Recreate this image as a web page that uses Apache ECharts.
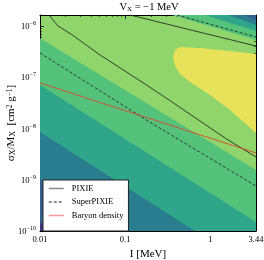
<!DOCTYPE html>
<html><head><meta charset="utf-8">
<script src="https://cdn.jsdelivr.net/npm/echarts@6/dist/echarts.min.js"></script>
<style>html,body{margin:0;padding:0;background:#fff}#c{width:264px;height:260px}</style>
</head><body><div id="c"></div>
<script>
// ---- axis extents and tick labels ----
const xRange = [0.01, 3.44];
const yRange = [1e-10, 1.64e-6];
const xTickLabels = ['0.01', '0.1', '1', '3.44'];

// ---- filled contour boundaries: I [MeV] and sigma_X/M_X [cm^2 g^-1] ----
const lgGreenI = [0.01, 3.44];      const lgGreenS = [5.8e-7, 1.55e-9];
const greenTealI = [0.01, 3.44];    const greenTealS = [7.06e-8, 1.5e-10];
const tealBlueI = [0.01, 0.66];     const tealBlueS = [8.55e-9, 1e-10];
const blueDeepI = [0.01, 0.0918];   const blueDeepS = [1.035e-9, 1e-10];
const deepNavyI = [0.01, 0.0142];   const deepNavyS = [1.43e-10, 1e-10];
// top-right corner levels
const trGreenI = [0.355, 3.44];     const trGreenS = [1.64e-6, 5.33e-7];
const trTealI = [0.866, 3.44];      const trTealS = [1.64e-6, 7.98e-7];
const trBlueI = [1.614, 3.44];      const trBlueS = [1.64e-6, 1.046e-6];
const trDeepI = [2.488, 3.44];      const trDeepS = [1.64e-6, 1.309e-6];
// yellow (highest) region
const yelTopI = [0.365, 0.385, 0.4405, 0.757, 1.703, 3.44];
const yelTopS = [2.48e-7, 3.40e-7, 3.89e-7, 3.72e-7, 3.25e-7, 2.84e-7];
const yelBotI = [0.365, 0.385, 0.4405, 0.5775, 0.992, 1.703, 3.44];
const yelBotS = [2.48e-7, 1.66e-7, 1.156e-7, 8.07e-8, 4.51e-8, 2.30e-8, 8.17e-9];

// ---- constraint curves ----
const pixieLowI = [0.01276, 0.01627, 0.02312, 0.0507, 0.0996, 0.1855, 0.385, 0.757, 1.488, 3.44];
const pixieLowS = [1.64e-6, 1e-6, 6.98e-7, 2.72e-7, 1.324e-7, 6.75e-8, 3.01e-8, 1.40e-8, 6.53e-9, 2.78e-9];
const pixieHighI = [0.114, 3.44];   const pixieHighS = [1.64e-6, 4.07e-7];
const superLowI = [0.01, 0.1855, 3.44]; const superLowS = [2.97e-7, 1.40e-8, 7.55e-10];
const superHighI = [0.4064, 3.44];  const superHighS = [1.64e-6, 6.10e-7];
const baryonI = [0.01, 3.44];       const baryonS = [7.73e-8, 3.33e-9];

const C = {
  yellow: '#e8e25a', lightGreen: '#8fd56b', green: '#54c27a', teal: '#2fa68a',
  blueTeal: '#2a7d8e', blue: '#35608d', navy: '#452f7c'
};
const FONT = 'Liberation Serif';
const zip = (a, b) => a.map((v, i) => [v, b[i]]);

function fill(I, S, color, origin) {
  return {
    type: 'line', data: zip(I, S), symbol: 'none', silent: true,
    lineStyle: { width: 0 }, areaStyle: { color: color, opacity: 1, origin: origin },
    z: 1, animation: false
  };
}
function curve(name, I, S, color, type, width) {
  return {
    name: name, type: 'line', data: zip(I, S), symbol: 'none',
    itemStyle: { color: color },
    lineStyle: { color: color, type: type, width: width }, z: 3, animation: false
  };
}
const hideSym = { color: 'rgba(0,0,0,0)', borderColor: 'rgba(0,0,0,0)', borderWidth: 0, opacity: 0 };

const axisCommon = {
  type: 'log', logBase: 10,
  axisLine: { show: true, onZero: false, lineStyle: { color: '#000', width: 1 } },
  axisTick: { show: true, inside: true, length: 4, lineStyle: { color: '#000', width: 0.8 } },
  minorTick: { show: true, splitNumber: 9, length: 2, lineStyle: { color: '#000', width: 0.6 } },
  splitLine: { show: false }, minorSplitLine: { show: false }
};

const chart = echarts.init(document.getElementById('c'), null, { renderer: 'canvas' });
chart.setOption({
  animation: false,
  title: {
    text: '{v|V}{s|X}{v| = −1 MeV}', left: 149, top: 1, textAlign: 'center', padding: 0,
    textStyle: { fontWeight: 'normal', rich: {
      v: { fontFamily: FONT, fontSize: 10.5, fontWeight: 'normal', color: '#000', lineHeight: 12, verticalAlign: 'bottom' },
      s: { fontFamily: FONT, fontSize: 7, fontWeight: 'normal', color: '#000', lineHeight: 5, verticalAlign: 'bottom' }
    } }
  },
  grid: { left: 40, top: 15, width: 216, height: 216, containLabel: false, outerBoundsMode: 'none',
    show: true, backgroundColor: C.lightGreen, borderWidth: 0 },
  legend: {
    data: [
      { name: 'PIXIE', itemStyle: hideSym, lineStyle: { color: '#8a8a8a', width: 1.5, type: 'solid' } },
      { name: 'SuperPIXIE', itemStyle: hideSym, lineStyle: { color: '#222', width: 1, type: [3, 2] } },
      { name: 'Baryon density', itemStyle: hideSym, lineStyle: { color: '#f39a9a', width: 1.5, type: 'solid' } }
    ],
    orient: 'vertical', left: 43, top: 180, itemWidth: 15, itemHeight: 10, itemGap: 4.5,
    padding: [4, 5, 11, 5], backgroundColor: '#fff', borderColor: '#222', borderWidth: 1, borderRadius: 0,
    textStyle: { fontFamily: FONT, fontSize: 8.5, color: '#000', padding: [0, 0, 0, 3] },
    selectedMode: false
  },
  xAxis: [
    Object.assign({}, axisCommon, {
      min: xRange[0], max: xRange[1], position: 'bottom',
      axisLabel: { fontFamily: FONT, fontSize: 8.5, color: '#000', margin: 4,
        formatter: function (v) {
          const l = Math.log10(v);
          if (Math.abs(l - Math.round(l)) < 1e-6) return xTickLabels[Math.round(l) + 2] || '';
          if (Math.abs(v - xRange[1]) < 1e-3) return xTickLabels[3];
          return '';
        } },
      name: 'I [MeV]', nameLocation: 'middle', nameGap: 18, nameMoveOverlap: false,
      nameTextStyle: { fontFamily: FONT, fontSize: 11, color: '#000' }
    }),
    Object.assign({}, axisCommon, { min: xRange[0], max: xRange[1], position: 'top', axisLabel: { show: false } })
  ],
  yAxis: [
    Object.assign({}, axisCommon, {
      min: yRange[0], max: yRange[1], position: 'left',
      axisLabel: { margin: 4, color: '#000',
        formatter: function (v) {
          const l = Math.log10(v);
          if (Math.abs(l - Math.round(l)) < 1e-6) return '{b|10}{e|−' + (-Math.round(l)) + '}';
          return '';
        },
        rich: {
          b: { fontFamily: FONT, fontSize: 8.5, color: '#000', lineHeight: 11, verticalAlign: 'bottom' },
          e: { fontFamily: FONT, fontSize: 6, color: '#000', lineHeight: 6, verticalAlign: 'top' }
        } },
      name: 'σ{s|X}/M{s|X}  [cm{p|2} g{p|−1}]', nameLocation: 'middle', nameGap: 23, nameRotate: 90,
      nameMoveOverlap: false,
      nameTextStyle: { fontFamily: FONT, fontSize: 11, color: '#000',
        rich: {
          s: { fontFamily: FONT, fontSize: 8, color: '#000', lineHeight: 6, verticalAlign: 'bottom' },
          p: { fontFamily: FONT, fontSize: 7.5, color: '#000', lineHeight: 6, verticalAlign: 'top' }
        } }
    }),
    Object.assign({}, axisCommon, { min: yRange[0], max: yRange[1], position: 'right', axisLabel: { show: false } })
  ],
  series: [
    fill(yelTopI, yelTopS, C.yellow, 'start'),
    fill(yelBotI, yelBotS, C.lightGreen, 'start'),
    fill(lgGreenI, lgGreenS, C.green, 'start'),
    fill(greenTealI, greenTealS, C.teal, 'start'),
    fill(tealBlueI, tealBlueS, C.blueTeal, 'start'),
    fill(blueDeepI, blueDeepS, C.blue, 'start'),
    fill(deepNavyI, deepNavyS, C.navy, 'start'),
    fill(trGreenI, trGreenS, C.green, 'end'),
    fill(trTealI, trTealS, C.teal, 'end'),
    fill(trBlueI, trBlueS, C.blueTeal, 'end'),
    fill(trDeepI, trDeepS, C.blue, 'end'),
    curve('PIXIE', pixieLowI, pixieLowS, '#1a1a1a', 'solid', 0.8),
    curve('PIXIE', pixieHighI, pixieHighS, '#1a1a1a', 'solid', 0.8),
    curve('SuperPIXIE', superLowI, superLowS, '#1a1a1a', [3, 2], 0.8),
    curve('SuperPIXIE', superHighI, superHighS, '#1a1a1a', [3, 2], 0.8),
    curve('Baryon density', baryonI, baryonS, '#dc4530', 'solid', 0.9)
  ]
});
</script></body></html>
